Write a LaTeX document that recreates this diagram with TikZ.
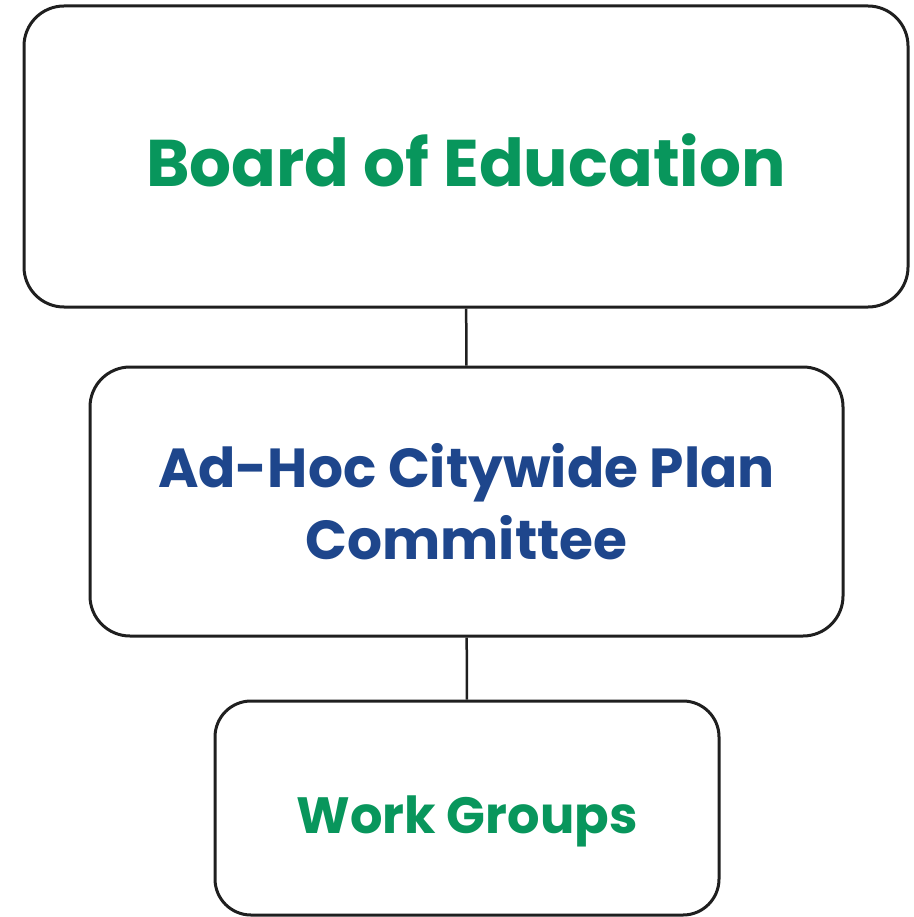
\documentclass[tikz,border=0pt]{standalone}
\usepackage{fontspec}
\setmainfont{Poppins}
\definecolor{boardgreen}{RGB}{8,150,92}
\definecolor{planblue}{RGB}{30,70,140}
\begin{document}
\begin{tikzpicture}[x=1pt, y=-1pt, line width=3pt, main node/.style={rectangle,rounded corners=40pt,draw=black!88,align=center,inner sep=0pt,font=\bfseries}]
\useasboundingbox (0,0) rectangle (913,917);
\begin{scope}[every node/.style={main node}]
\node[minimum width=884pt, minimum height=301pt, text=boardgreen, font=\bfseries\fontsize{66}{72}\selectfont, text height=61pt, text depth=0pt] (board) at (466,156.5) {Board of Education};
\node[minimum width=753pt, minimum height=269pt, text=planblue, font=\bfseries\fontsize{55}{72}\selectfont] (plan) at (466.5,501.5) {Ad-Hoc Citywide Plan\\Committee};
\node[minimum width=504pt, minimum height=214pt, text=boardgreen, font=\bfseries\fontsize{51}{58}\selectfont, text height=50pt, text depth=0pt, rounded corners=36pt] (work) at (467,808) {Work Groups};
\end{scope}
\begin{scope}[line width=2.5pt, draw=black!88]
\draw (board) -- (plan);
\draw (plan) -- (work);
\end{scope}
\end{tikzpicture}
\end{document}
